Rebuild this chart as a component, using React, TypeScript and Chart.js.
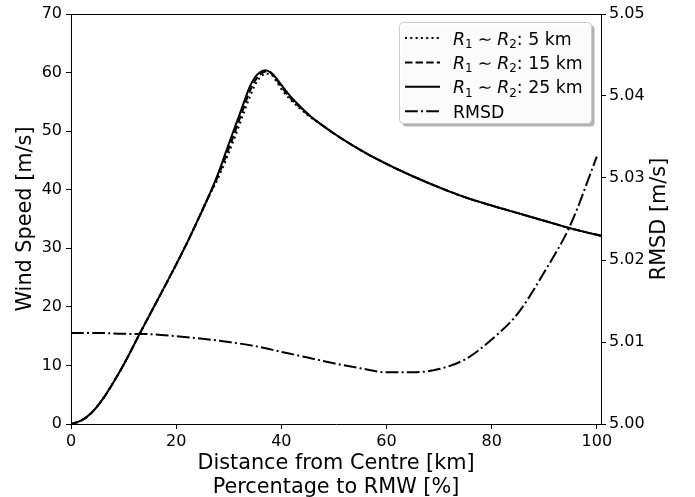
import React, { useEffect, useRef } from 'react';
import { Chart, registerables } from 'chart.js';

Chart.register(...registerables);

// ---- data ----
const DIST_KM = [0, 2, 4, 6, 8, 10, 13, 16, 19, 22, 24, 26, 28, 30, 32, 33, 34, 35, 36, 37, 38, 39, 40, 41.5, 43.5, 45.5, 47.5, 50, 55, 60, 65, 70, 75, 80, 85, 90, 95, 100, 101];
const WIND_25KM = [0, 0.6, 2.0, 4.2, 7.0, 10.1, 15.3, 20.4, 25.5, 30.8, 34.6, 38.5, 42.8, 47.8, 52.7, 55.2, 57.6, 59.2, 60.1, 60.4, 60.0, 59.1, 57.9, 56.2, 54.3, 52.6, 51.2, 49.6, 46.8, 44.4, 42.3, 40.4, 38.7, 37.3, 36.0, 34.7, 33.4, 32.3, 32.1];
const WIND_15KM = [0, 0.6, 2.0, 4.2, 7.0, 10.1, 15.3, 20.4, 25.5, 30.8, 34.6, 38.5, 42.4, 47.0, 51.9, 54.4, 56.8, 58.6, 59.7, 60.2, 60.0, 58.9, 57.6, 55.9, 54.1, 52.5, 51.2, 49.6, 46.8, 44.4, 42.3, 40.4, 38.7, 37.3, 36.0, 34.7, 33.4, 32.3, 32.1];
const WIND_5KM = [0, 0.6, 2.0, 4.2, 7.0, 10.1, 15.3, 20.4, 25.5, 30.8, 34.6, 38.5, 42.0, 46.3, 51.0, 53.5, 55.8, 57.9, 59.2, 59.8, 59.7, 58.6, 57.2, 55.6, 53.9, 52.4, 51.2, 49.6, 46.8, 44.4, 42.3, 40.4, 38.7, 37.3, 36.0, 34.7, 33.4, 32.3, 32.1];
const RMSD_PCT = [0, 5, 10, 15, 20, 25, 30, 35, 40, 45, 50, 55, 60, 65, 70, 75, 80, 85, 90, 95, 100];
const RMSD_VAL = [5.0111, 5.0111, 5.011, 5.01095, 5.0107, 5.0104, 5.01, 5.0095, 5.0088, 5.0081, 5.0074, 5.0068, 5.0063, 5.0063, 5.0067, 5.0079, 5.0103, 5.0135, 5.0185, 5.0243, 5.0326];

const X_TICKS = [0, 20, 40, 60, 80, 100];
const WIND_TICKS = [0, 10, 20, 30, 40, 50, 60, 70];
const RMSD_TICKS = [5.0, 5.01, 5.02, 5.03, 5.04, 5.05];
const LEGEND_SIZES = ['5 km', '15 km', '25 km'];

const FONT = 'DejaVu Sans';
const DOTTED = [2, 3.3];
const DASHED = [7.4, 3.2];
const DASHDOT = [12.8, 3.2, 2, 3.2];

const toXY = (xs: number[], ys: number[]) => xs.map((x, i) => ({ x, y: ys[i] }));

const legendPlugin = {
  id: 'customLegend',
  afterDraw(chart: any) {
    const ctx: CanvasRenderingContext2D = chart.ctx;
    const { left, right, top, bottom } = chart.chartArea;
    ctx.save();
    // top spine
    ctx.strokeStyle = '#000';
    ctx.lineWidth = 1;
    ctx.beginPath();
    ctx.moveTo(left, top + 0.5);
    ctx.lineTo(right, top + 0.5);
    ctx.stroke();

    // right axis title (reads bottom to top)
    ctx.save();
    ctx.translate(660, (top + bottom) / 2);
    ctx.rotate(-Math.PI / 2);
    ctx.font = `20.8px "${FONT}"`;
    ctx.fillStyle = '#000';
    ctx.textAlign = 'center';
    ctx.textBaseline = 'middle';
    ctx.fillText('RMSD [m/s]', 0, 0);
    ctx.restore();

    // legend box
    const x0 = 399.5, y0 = 22.5, w = 192, h = 101, r = 4;
    const rr = (x: number, y: number) => {
      ctx.beginPath();
      ctx.moveTo(x + r, y);
      ctx.lineTo(x + w - r, y);
      ctx.quadraticCurveTo(x + w, y, x + w, y + r);
      ctx.lineTo(x + w, y + h - r);
      ctx.quadraticCurveTo(x + w, y + h, x + w - r, y + h);
      ctx.lineTo(x + r, y + h);
      ctx.quadraticCurveTo(x, y + h, x, y + h - r);
      ctx.lineTo(x, y + r);
      ctx.quadraticCurveTo(x, y, x + r, y);
      ctx.closePath();
    };
    rr(x0 + 3, y0 + 3);
    ctx.fillStyle = '#b3b3b3';
    ctx.fill();
    rr(x0, y0);
    ctx.fillStyle = 'rgba(255,255,255,0.95)';
    ctx.fill();
    ctx.strokeStyle = '#cccccc';
    ctx.lineWidth = 1;
    ctx.stroke();

    const dashes = [DOTTED, DASHED, [], DASHDOT];
    const rowY = (i: number) => 38 + i * 24.4;
    for (let i = 0; i < 4; i++) {
      const y = rowY(i);
      ctx.setLineDash(dashes[i]);
      ctx.strokeStyle = '#000';
      ctx.lineWidth = 2;
      ctx.beginPath();
      ctx.moveTo(405, y);
      ctx.lineTo(440, y);
      ctx.stroke();
      ctx.setLineDash([]);
      ctx.fillStyle = '#000';
      ctx.textBaseline = 'alphabetic';
      ctx.textAlign = 'left';
      const base = y + 6.5;
      let x = 453;
      const seg = (t: string, font: string, dy = 0) => {
        ctx.font = font;
        ctx.fillText(t, x, base + dy);
        x += ctx.measureText(t).width;
      };
      const reg = `17.33px "${FONT}"`;
      const ita = `italic 17.33px "${FONT}"`;
      const sub = `12px "${FONT}"`;
      if (i < 3) {
        seg('R', ita);
        seg('1', sub, 3.5);
        x += 5;
        seg('∼', reg);
        x += 5;
        seg('R', ita);
        seg('2', sub, 3.5);
        seg(': ' + LEGEND_SIZES[i], reg);
      } else {
        seg('RMSD', reg);
      }
    }
    ctx.restore();
  },
};

export default function App() {
  const ref = useRef<HTMLCanvasElement | null>(null);
  useEffect(() => {
    document.body.style.margin = '0';
    const canvas = ref.current;
    if (!canvas) return;
    Chart.defaults.font.family = FONT;
    Chart.defaults.color = '#000';
    const common = {
      borderColor: '#000',
      borderWidth: 2,
      pointRadius: 0,
      fill: false,
      cubicInterpolationMode: 'monotone' as const,
    };
    const tickGrid = {
      drawOnChartArea: false,
      drawTicks: true,
      tickLength: 5,
      color: '#000',
      tickWidth: 1,
    };
    const chart = new Chart(canvas, {
      type: 'line',
      data: {
        datasets: [
          { ...common, label: '5 km', data: toXY(DIST_KM, WIND_5KM), borderDash: DOTTED, yAxisID: 'y' },
          { ...common, label: '15 km', data: toXY(DIST_KM, WIND_15KM), borderDash: DASHED, yAxisID: 'y' },
          { ...common, label: '25 km', data: toXY(DIST_KM, WIND_25KM), yAxisID: 'y' },
          { ...common, label: 'RMSD', data: toXY(RMSD_PCT, RMSD_VAL), borderDash: DASHDOT, yAxisID: 'y2' },
        ],
      },
      options: {
        responsive: false,
        animation: false,
        devicePixelRatio: 1,
        layout: { padding: { top: 14, left: 0, right: 0, bottom: 0 } },
        plugins: { legend: { display: false }, tooltip: { enabled: false } },
        scales: {
          x: {
            type: 'linear',
            min: 0,
            max: 100.8,
            grid: tickGrid,
            border: { display: true, color: '#000', width: 1 },
            ticks: { font: { size: 16 }, padding: 3, maxRotation: 0 },
            afterBuildTicks: (s: any) => { s.ticks = X_TICKS.map((v) => ({ value: v })); },
            afterFit: (s: any) => { s.height = 73; },
            title: {
              display: true,
              text: ['Distance from Centre [km]', 'Percentage to RMW [%]'],
              font: { size: 20.8, lineHeight: 1.17 },
              padding: { top: 0, bottom: -3 },
            },
          },
          y: {
            type: 'linear',
            position: 'left',
            min: 0,
            max: 70,
            grid: tickGrid,
            border: { display: true, color: '#000', width: 1 },
            ticks: { font: { size: 16 }, padding: 4 },
            afterBuildTicks: (s: any) => { s.ticks = WIND_TICKS.map((v) => ({ value: v })); },
            afterFit: (s: any) => { s.width = 71; },
            title: {
              display: true,
              text: 'Wind Speed [m/s]',
              font: { size: 20.8, lineHeight: 1.2 },
              padding: { top: 13, bottom: 0 },
            },
          },
          y2: {
            type: 'linear',
            position: 'right',
            min: 5.0,
            max: 5.05,
            grid: tickGrid,
            border: { display: true, color: '#000', width: 1 },
            ticks: {
              font: { size: 16 },
              padding: 3,
              callback: (v: any) => Number(v).toFixed(2),
            },
            afterBuildTicks: (s: any) => { s.ticks = RMSD_TICKS.map((v) => ({ value: v })); },
            afterFit: (s: any) => { s.width = 94; },
          },
        },
      },
      plugins: [legendPlugin],
    } as any);
    return () => chart.destroy();
  }, []);
  return (
    <div style={{ width: 695, height: 497, background: '#fff' }}>
      <canvas ref={ref} width={695} height={497} style={{ width: 695, height: 497, display: 'block' }} />
    </div>
  );
}
